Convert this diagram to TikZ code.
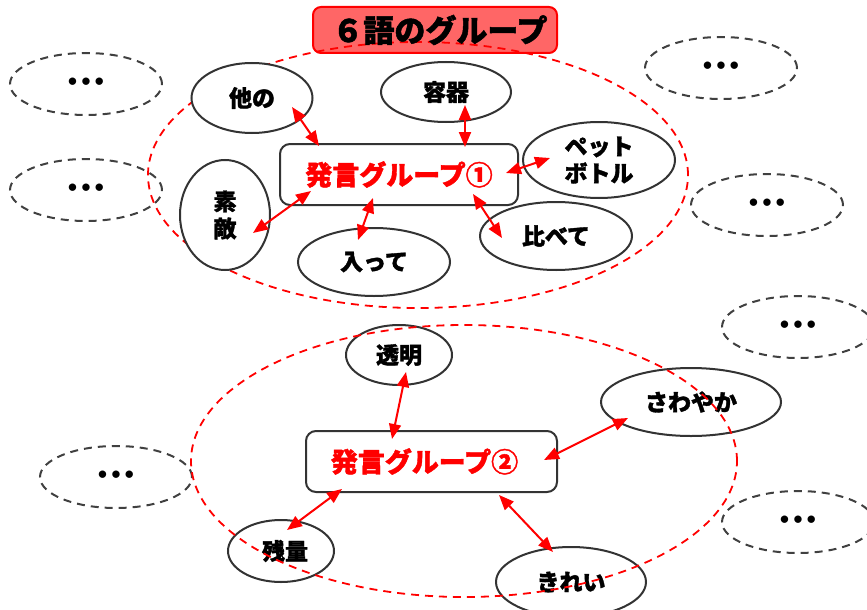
\documentclass[tikz,border=0pt]{standalone}
\usepackage{fontspec}
\setmainfont{Noto Sans CJK JP}[BoldFeatures={FakeBold=1.5}]
\newfontfamily\dotfont{DejaVu Sans}
\usetikzlibrary{shapes.geometric,arrows.meta,calc}
\definecolor{edge}{HTML}{333333}
\definecolor{dash}{HTML}{404040}
\begin{document}
\begin{tikzpicture}[x=1pt,y=-1pt,
 word/.style={ellipse,draw=edge,line width=2pt,fill=white,inner sep=0pt,align=center,
   font=\fontsize{23}{27}\selectfont\bfseries},
 more/.style={ellipse,draw=dash,line width=2pt,dash pattern=on 8pt off 6pt,inner sep=0pt,
   minimum width=152pt,minimum height=62pt,font=\dotfont\bfseries\fontsize{21}{21}\selectfont},
 group/.style={ellipse,draw=red,line width=1.8pt,dash pattern=on 8pt off 6pt,inner sep=0pt},
 hub/.style={rectangle,rounded corners=10pt,draw=edge,line width=2pt,fill=white,text=red,
   inner sep=0pt,font=\fontsize{27}{27}\selectfont\bfseries},
 link/.style={red,line width=2pt,{Triangle[length=15pt,width=12pt]}-{Triangle[length=15pt,width=12pt]}}
]
\useasboundingbox (0,0) rectangle (867,610);

% other groups
\node[more] (m1) at (86,84) {•••};
\node[more] (m2) at (86,190) {•••};
\node[more] (m3) at (721,68) {•••};
\node[more] (m4) at (767,205) {•••};
\node[more] (m5) at (798,327) {•••};
\node[more] (m6) at (116,477) {•••};
\node[more] (m7) at (798,522) {•••};

% group 1
\node[group,minimum width=540pt,minimum height=266pt] (g1) at (418,175) {};
\node[rectangle,rounded corners=8pt,draw=red,line width=2pt,fill=red,fill opacity=0.6,text opacity=1,
  minimum width=244pt,minimum height=46pt,inner sep=0pt,font=\fontsize{31}{31}\selectfont\bfseries]
  (title) at (435,30) {\hspace*{10pt}６語のグループ};

\node[word,minimum width=121pt,minimum height=70pt] (tano) at (252,98) {他の};
\node[word,minimum width=130pt,minimum height=60pt] (youki) at (446,92) {容器};
\node[word,minimum width=152pt,minimum height=76pt] (pet) at (599,160) {ペット\\ボトル};
\node[word,minimum width=90pt,minimum height=110pt] (suteki) at (225,215) {素\\敵};
\node[word,minimum width=152pt,minimum height=68pt] (haitte) at (374,262) {入って};
\node[word,minimum width=152pt,minimum height=68pt] (kurabete) at (556,236) {比べて};
\node[hub,minimum width=238pt,minimum height=61pt] (b1) at (399,174.5) {発言グループ①};

\draw[link] ($(tano.center)+(40,9)$) -- ($(b1.north west)+(40,3)$);
\draw[link] ($(youki.center)+(19,13)$) -- ($(b1.north)+(66,4)$);
\draw[link] ($(pet.center)+(-49,-2)$) -- ($(b1.east)+(-13,-1.5)$);
\draw[link] ($(suteki.center)+(28,18)$) -- ($(b1.south west)+(32,-15)$);
\draw[link] ($(haitte.center)+(-16,-22)$) -- ($(b1.south)+(-26,-8)$);
\draw[link] ($(kurabete.center)+(-54,2)$) -- ($(b1.south east)+(-46,-12)$);

% group 2
\node[word,minimum width=106pt,minimum height=60pt] (toumei) at (399,355) {透明};
\node[word,minimum width=180pt,minimum height=68pt] (sawayaka) at (691,402) {さわやか};
\node[word,minimum width=106pt,minimum height=62pt] (zanryou) at (281,551) {\hspace*{8pt}残量};
\node[word,minimum width=150pt,minimum height=70pt] (kirei) at (571,582) {きれい};
\node[hub,minimum width=251pt,minimum height=61pt] (b2) at (431.5,461.5) {発言グループ②\hspace*{14pt}};
\node[group,minimum width=546pt,minimum height=272pt] (g2) at (464,461) {};

\draw[link] ($(toumei.center)+(7,17)$) -- ($(b2.north)+(-39.5,9)$);
\draw[link] ($(sawayaka.center)+(-63,16)$) -- ($(b2.east)+(-14,-1.5)$);
\draw[link] ($(zanryou.center)+(6,-21)$) -- ($(b2.south west)+(37,-4)$);
\draw[link] ($(kirei.center)+(-18,-30)$) -- ($(b2.south east)+(-59,2)$);
\end{tikzpicture}
\end{document}
